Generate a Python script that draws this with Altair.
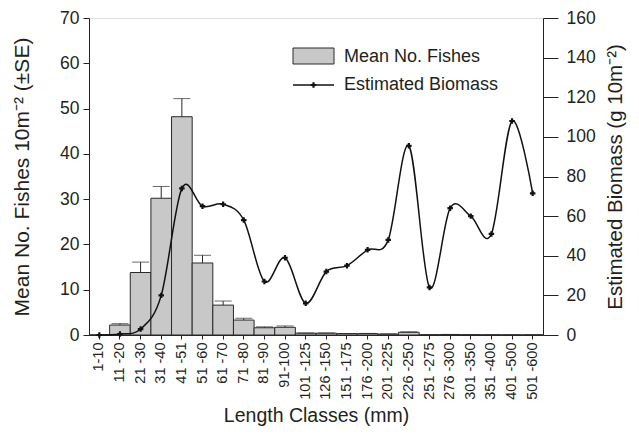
import altair as alt
import pandas as pd

classes = ["1-10", "11 -20", "21 -30", "31 -40", "41 -51", "51 -60", "61 -70", "71 -80",
           "81 -90", "91-100", "101 -125", "126 -150", "151 -175", "176 -200", "201 -225",
           "226 -250", "251 -275", "276 -300", "301 -350", "351 -400", "401 -500", "501 -600"]
mean_fish = [0, 2.2, 13.8, 30.2, 48.2, 15.9, 6.6, 3.3, 1.6, 1.7, 0.4, 0.4, 0.3, 0.3,
             0.2, 0.6, 0.05, 0.1, 0.05, 0.03, 0.02, 0.02]
se_fish = [0, 0.3, 2.3, 2.6, 4.0, 1.7, 0.9, 0.4, 0.2, 0.3, 0.05, 0.05, 0.05, 0.05,
           0.05, 0.1, 0.02, 0.03, 0.02, 0.01, 0.01, 0.01]
biomass = [0, 0.5, 3, 20, 74, 65, 66, 58, 27, 39, 16, 32, 35, 43, 48, 95.5, 24, 64,
           60, 51, 108, 71.5]
fish_ticks = [0, 10, 20, 30, 40, 50, 60, 70]
bio_ticks = [0, 20, 40, 60, 80, 100, 120, 140, 160]

df = pd.DataFrame({"cls": classes, "fish": mean_fish,
                   "top": [m + s for m, s in zip(mean_fish, se_fish)], "bio": biomass})

FONT = "Liberation Sans"
TXT = "#231f20"
W, H = 454, 317

xaxis = alt.Axis(labelAngle=-90, labelFontSize=14.5, labelFont=FONT, labelColor=TXT,
                 titleFont=FONT, titleFontSize=19.5, titleFontWeight="normal", titleColor=TXT,
                 titlePadding=7, tickSize=4, tickColor="#222", domainColor="#222",
                 labelPadding=3)
xscale = alt.Scale(paddingInner=0, paddingOuter=0)


def xenc():
    return alt.X("cls:N", sort=classes, title="Length Classes (mm)", scale=xscale, axis=xaxis)


faxis = alt.Axis(values=fish_ticks, title="Mean No. Fishes 10m⁻² (±SE)",
                 grid=False, labelFont=FONT, labelFontSize=17.5, labelColor=TXT,
                 titleFont=FONT, titleFontSize=21, titleFontWeight="normal", titleColor=TXT,
                 tickSize=6, tickColor="#222", domainColor="#222", labelPadding=4,
                 titlePadding=27, labelOverlap=False)
fscale = alt.Scale(domain=[0, 70])

baxis = alt.Axis(orient="right", values=bio_ticks,
                 title="Estimated Biomass (g 10m⁻²)", grid=False,
                 labelFont=FONT, labelFontSize=17.5, labelColor=TXT,
                 titleFont=FONT, titleFontSize=20.5, titleFontWeight="normal", titleColor=TXT,
                 titleAngle=270, titleBaseline="top",
                 tickSize=15, tickColor="#222", domainColor="#222", labelPadding=8,
                 titlePadding=10, labelOverlap=False)
bscale = alt.Scale(domain=[0, 160])
ftitle = "Mean No. Fishes 10m⁻² (±SE)"
btitle = "Estimated Biomass (g 10m⁻²)"

bars = alt.Chart(df).mark_bar(fill="#c8c8c8", stroke="#2a2a2a", strokeWidth=1).encode(
    x=xenc(), y=alt.Y("fish:Q", scale=fscale, axis=faxis, title=ftitle))
err = alt.Chart(df).mark_rule(color="#2a2a2a", strokeWidth=1).encode(
    x=xenc(), y=alt.Y("fish:Q", scale=fscale, axis=faxis, title=ftitle), y2="top:Q")
caps = alt.Chart(df).mark_tick(color="#2a2a2a", thickness=1, size=17).encode(
    x=xenc(), y=alt.Y("top:Q", scale=fscale, axis=faxis, title=ftitle))
left = alt.layer(bars, err, caps)

line = alt.Chart(df).mark_line(color="#111", strokeWidth=1.5, interpolate="cardinal").encode(
    x=xenc(), y=alt.Y("bio:Q", scale=bscale, axis=baxis, title=btitle))
pts = alt.Chart(df).mark_point(shape="cross", filled=True, color="#111", size=30, opacity=1).encode(
    x=xenc(), y=alt.Y("bio:Q", scale=bscale, axis=baxis, title=btitle))
right = alt.layer(line, pts)

one = pd.DataFrame({"k": [0]})
leg_rect = alt.Chart(one).mark_rect(fill="#c8c8c8", stroke="#2a2a2a", strokeWidth=1).encode(
    x=alt.value(204), x2=alt.value(245), y=alt.value(30), y2=alt.value(46))
leg_t1 = alt.Chart(one).mark_text(align="left", baseline="middle", font=FONT, fontSize=18,
                                  color=TXT, text="Mean No. Fishes").encode(
    x=alt.value(255), y=alt.value(39))
leg_line = alt.Chart(one).mark_rule(color="#111", strokeWidth=1.5).encode(
    x=alt.value(204), x2=alt.value(245), y=alt.value(67))
leg_pt = alt.Chart(one).mark_point(shape="cross", filled=True, color="#111", size=30, opacity=1).encode(
    x=alt.value(224.5), y=alt.value(67))
leg_t2 = alt.Chart(one).mark_text(align="left", baseline="middle", font=FONT, fontSize=18,
                                  color=TXT, text="Estimated Biomass").encode(
    x=alt.value(255), y=alt.value(67))
legend = alt.layer(leg_rect, leg_t1, leg_line, leg_pt, leg_t2)

chart = alt.layer(left, right, legend).resolve_scale(y="independent").properties(
    width=W, height=H, padding={"left": 81, "top": 10, "right": 86, "bottom": 92},
    autosize=alt.AutoSizeParams(type="none")
).configure_view(stroke=None).configure(background="white")

chart.save("out.html", embed_options={"renderer": "svg", "actions": False})
